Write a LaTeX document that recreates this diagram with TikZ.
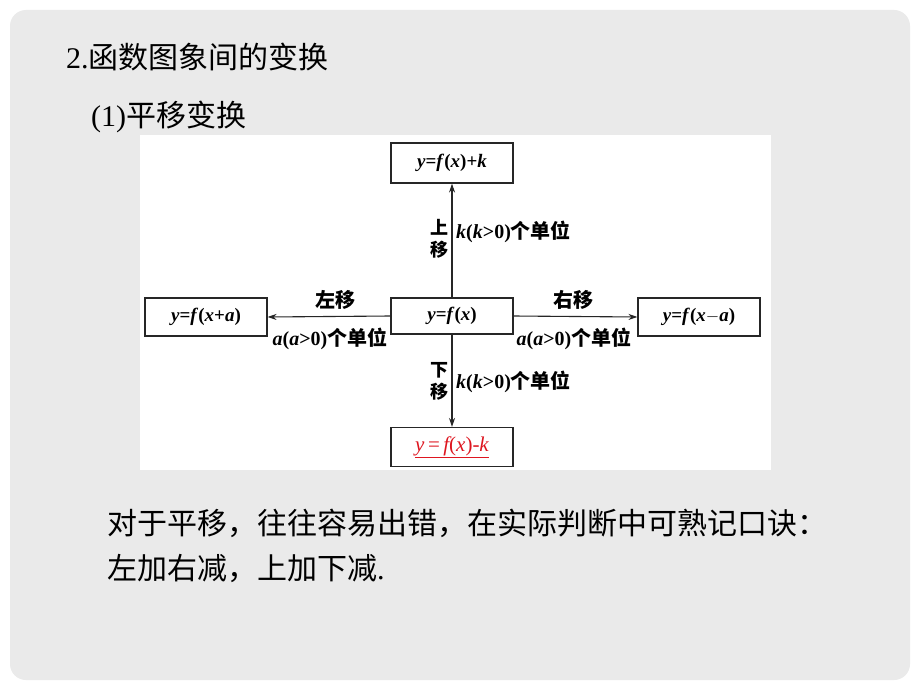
\documentclass[tikz,border=0pt]{standalone}
\usepackage{fontspec}
\setmainfont{Liberation Serif}
\newfontfamily\cjk{Noto Sans CJK SC}
\usetikzlibrary{arrows.meta}
\definecolor{bg}{RGB}{234,234,234}
\definecolor{eqred}{RGB}{222,22,32}
\newcommand\bi[1]{{\bfseries\itshape #1}}
\newcommand\cb[1]{{\cjk\bfseries #1}}
\tikzset{
  box/.style={draw=black!85, line width=1.1pt, fill=white, minimum width=122pt, minimum height=38pt, inner sep=0pt, font=\fontsize{19}{21}\selectfont},
  lab/.style={inner sep=0pt, font=\fontsize{20}{22}\selectfont},
  arr/.style={draw=black!85, line width=1.1pt, -{Stealth[length=9pt,width=6pt]}},
  body/.style={anchor=base west, inner sep=0pt, font=\fontsize{30}{33}\selectfont}
}
\begin{document}
\begin{tikzpicture}[x=1pt,y=-1pt]
\useasboundingbox (0,0) rectangle (920,690);
\fill[white] (0,0) rectangle (920,690);
\fill[bg, rounded corners=16pt] (10,10) rectangle (910,680);
\fill[white] (140,135) rectangle (771,470);

\node[body] (t1) at (66,69) {2.{\cjk 函数图象间的变换}};
\node[body] (t2) at (91,126) {(1){\cjk 平移变换}};
\node[body] (t3) at (107,534) {{\cjk 对于平移，往往容易出错，在实际判断中可熟记口诀：}};
\node[body] (t4) at (107,579) {{\cjk 左加右减，上加下减}.};

\node[box, minimum height=40pt] (top) at (452,163) {\bi{y}\textbf{=}\bi{f}\textbf{(}\bi{x}\textbf{)+}\bi{k}};
\node[box, minimum height=36pt] (c) at (452,316) {\bi{y}\textbf{=}\bi{f}\textbf{(}\bi{x}\textbf{)}};
\node[box] (l) at (206,317) {\bi{y}\textbf{=}\bi{f}\textbf{(}\bi{x}\textbf{+}\bi{a}\textbf{)}};
\node[box] (r) at (699,317) {\bi{y}\textbf{=}\bi{f}\textbf{(}\bi{x}\textbf{$-$}\bi{a}\textbf{)}};
\node[box, minimum height=39pt, font=\fontsize{21}{23}\selectfont, text=eqred] (b) at (452,447) {\underline{\itshape y\,\upshape=\,\itshape f\upshape(\itshape x\upshape)-\itshape k}};

\draw[arr] (c.north) -- (top.south);
\draw[arr] (c.south) -- (b.north);
\draw[arr] (c.west) -- (l.east);
\draw[arr] (c.east) -- (r.west);

\node[lab] (lu) at (335,300) {\cb{左移}};
\node[lab] (ld) at (330,339) {\bi{a}\textbf{(}\bi{a}\textbf{>0)}\cb{个单位}};
\node[lab] (ru) at (573,300) {\cb{右移}};
\node[lab] (rd) at (574,339) {\bi{a}\textbf{(}\bi{a}\textbf{>0)}\cb{个单位}};
\node[lab, align=center, font=\fontsize{18}{22}\selectfont] (uu) at (439,239) {\cb{上}\\\cb{移}};
\node[lab, anchor=west] (ur) at (456,232) {\bi{k}\textbf{(}\bi{k}\textbf{>0)}\cb{个单位}};
\node[lab, align=center, font=\fontsize{18}{22}\selectfont] (du) at (439,381) {\cb{下}\\\cb{移}};
\node[lab, anchor=west] (dr) at (456,382) {\bi{k}\textbf{(}\bi{k}\textbf{>0)}\cb{个单位}};
\end{tikzpicture}
\end{document}
